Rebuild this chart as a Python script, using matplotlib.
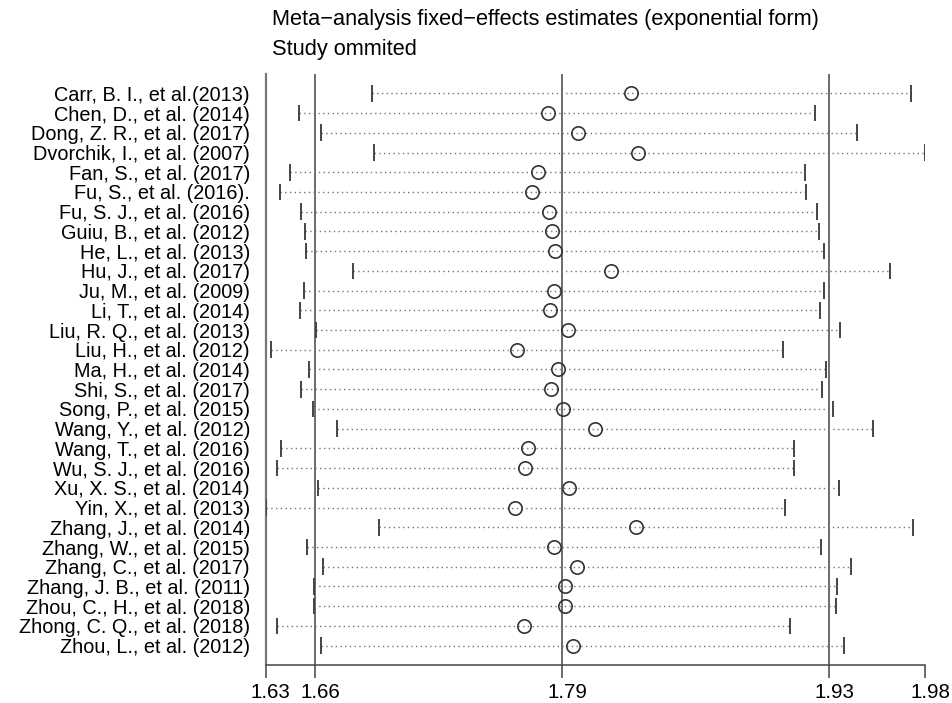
import numpy as np
import matplotlib
matplotlib.use("Agg")
import matplotlib.pyplot as plt
import matplotlib.transforms as mtransforms

# --- DATA ---
studies = [
    "Carr, B. I., et al.(2013)", "Chen, D., et al. (2014)", "Dong, Z. R., et al. (2017)",
    "Dvorchik, I., et al. (2007)", "Fan, S., et al. (2017)", "Fu, S., et al. (2016).",
    "Fu, S. J., et al. (2016)", "Guiu, B., et al. (2012)", "He, L., et al. (2013)",
    "Hu, J., et al. (2017)", "Ju, M., et al. (2009)", "Li, T., et al. (2014)",
    "Liu, R. Q., et al. (2013)", "Liu, H., et al. (2012)", "Ma, H., et al. (2014)",
    "Shi, S., et al. (2017)", "Song, P., et al. (2015)", "Wang, Y., et al. (2012)",
    "Wang, T., et al. (2016)", "Wu, S. J., et al. (2016)", "Xu, X. S., et al. (2014)",
    "Yin, X., et al. (2013)", "Zhang, J., et al. (2014)", "Zhang, W., et al. (2015)",
    "Zhang, C., et al. (2017)", "Zhang, J. B., et al. (2011)", "Zhou, C., H., et al. (2018)",
    "Zhong, C. Q., et al. (2018)", "Zhou, L., et al. (2012)",
]
estimate = [1.8260, 1.7822, 1.7983, 1.8298, 1.7771, 1.7741, 1.7831, 1.7843, 1.7861,
            1.8155, 1.7854, 1.7836, 1.7931, 1.7661, 1.7878, 1.7841, 1.7903, 1.8070,
            1.7719, 1.7703, 1.7932, 1.7652, 1.8285, 1.7857, 1.7975, 1.7914, 1.7914,
            1.7698, 1.7955]
lower = [1.6898, 1.6518, 1.6630, 1.6910, 1.6469, 1.6415, 1.6526, 1.6546, 1.6551,
         1.6801, 1.6542, 1.6520, 1.6605, 1.6369, 1.6570, 1.6526, 1.6591, 1.6716,
         1.6420, 1.6399, 1.6614, 1.6341, 1.6938, 1.6558, 1.6640, 1.6596, 1.6596,
         1.6402, 1.6632]
upper = [1.9731, 1.9226, 1.9447, 1.9804, 1.9174, 1.9178, 1.9237, 1.9246, 1.9275,
         1.9620, 1.9272, 1.9254, 1.9358, 1.9060, 1.9283, 1.9263, 1.9321, 1.9531,
         1.9116, 1.9118, 1.9351, 1.9069, 1.9741, 1.9256, 1.9417, 1.9342, 1.9337,
         1.9095, 1.9380]
overall = [1.66, 1.79, 1.93]  # pooled lower CI, estimate, upper CI

title_lines = ["Meta\u2212analysis fixed\u2212effects estimates (exponential form)",
               "Study ommited"]

# --- FIGURE ---
plt.rcParams['font.family'] = ['Liberation Sans', 'DejaVu Sans']
fig = plt.figure(figsize=(9.52, 7.03), dpi=100)
ax = fig.add_axes([0.2791, 0.0535, 0.6925, 0.8418])

n = len(studies)
rows = np.arange(n, 0, -1)  # first study on top
xmin, xmax = min(lower), max(upper)

# overall lines
for v in overall:
    ax.axvline(v, color='#444444', lw=1.1, zorder=1)

# dotted CI lines
ax.hlines(rows, lower, upper, colors='#747474', lw=1.0,
          linestyles=(0, (1, 2.4)), zorder=2)
# CI end bars
ax.vlines(lower, rows - 0.42, rows + 0.42, colors='#444444', lw=1.4, zorder=3)
ax.vlines(upper, rows - 0.42, rows + 0.42, colors='#444444', lw=1.4, zorder=3)
# estimates
ax.plot(estimate, rows, 'o', ms=9.6, mfc='none', mec='#333333', mew=1.2, zorder=4)

ax.set_xlim(xmin, xmax)
ax.set_ylim(0, n + 1)

ticks = [xmin] + overall + [xmax]
ax.set_xticks(ticks)
ax.set_xticklabels([f"{t:.2f}" for t in ticks], fontsize=14.8)
ax.tick_params(axis='x', length=9.5, width=1.1, color='#444444', pad=3)
offset = mtransforms.ScaledTranslation(5 / 100, 0, fig.dpi_scale_trans)
for lab in ax.get_xticklabels():
    lab.set_transform(lab.get_transform() + offset)

ax.set_yticks(rows)
ax.set_yticklabels(studies, fontsize=14.3)
ax.tick_params(axis='y', length=0, pad=11.3)

for s in ['top', 'right']:
    ax.spines[s].set_visible(False)
ax.spines['left'].set_color('#777777')
ax.spines['left'].set_linewidth(1.6)
ax.spines['bottom'].set_color('#444444')
ax.spines['bottom'].set_linewidth(1.1)

fig.text(271.7 / 952, 1 - 20 / 703, title_lines[0], fontsize=15.7, va='center', ha='left')
fig.text(271.7 / 952, 1 - 50 / 703, title_lines[1], fontsize=15.7, va='center', ha='left')

fig.savefig("out.png", dpi=100)
